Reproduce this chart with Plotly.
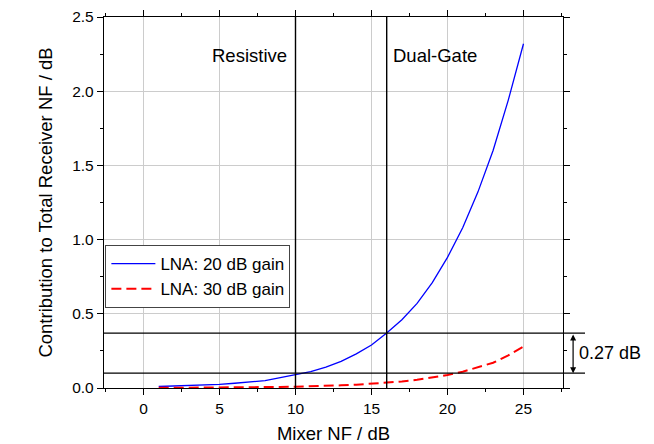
import plotly.graph_objects as go

# Mixer noise figure sweep (dB)
mixer_nf = list(range(1, 26))

# Contribution of the mixer to the total receiver NF (dB)
lna_20db = [0.010, 0.013, 0.016, 0.020, 0.025, 0.032, 0.040, 0.050, 0.070, 0.090,
            0.110, 0.140, 0.180, 0.230, 0.290, 0.370, 0.460, 0.570, 0.710, 0.880,
            1.080, 1.320, 1.600, 1.940, 2.320]
lna_30db = [0.001, 0.0013, 0.0017, 0.002, 0.0026, 0.003, 0.004, 0.005, 0.007, 0.009,
            0.011, 0.014, 0.018, 0.022, 0.028, 0.035, 0.044, 0.055, 0.070, 0.088,
            0.110, 0.140, 0.170, 0.220, 0.280]

# Reference mixer types (mixer NF, dB)
mixer_types = ["Resistive", "Dual-Gate"]
mixer_type_nf = [10, 16]
# Resulting contribution levels (dB) for 20 dB LNA gain
levels = [0.10, 0.37]
delta_label = "0.27 dB"

FONT = "Liberation Sans, Arial, sans-serif"

fig = go.Figure()
fig.add_trace(go.Scatter(x=mixer_nf, y=lna_20db, mode="lines",
                         name="LNA: 20 dB gain",
                         line=dict(color="#0000ff", width=1.3)))
fig.add_trace(go.Scatter(x=mixer_nf, y=lna_30db, mode="lines",
                         name="LNA: 30 dB gain",
                         line=dict(color="#ff0000", width=2, dash="10px,5px")))

# vertical markers for mixer types
for xv in mixer_type_nf:
    fig.add_shape(type="line", xref="x", yref="paper", x0=xv, x1=xv, y0=0, y1=1,
                  line=dict(color="black", width=1.4))
# horizontal levels extending past the right axis
for yv in levels:
    fig.add_shape(type="line", xref="paper", yref="y", x0=0, x1=1.048, y0=yv, y1=yv,
                  line=dict(color="black", width=1.4), layer="above")

fig.add_annotation(x=9.6, y=2.24, text=mixer_types[0], showarrow=False,
                   xanchor="right", font=dict(size=18.5, color="black", family=FONT))
fig.add_annotation(x=16.3, y=2.24, text=mixer_types[1], showarrow=False,
                   xanchor="left", font=dict(size=18.5, color="black", family=FONT))

# double-headed arrow spanning the level difference
fig.add_annotation(x=1.022, xref="paper", y=levels[0], yref="y",
                   ax=0, axref="pixel", ay=levels[1], ayref="y",
                   text="", showarrow=True, arrowhead=2, arrowside="end+start",
                   arrowsize=1, arrowwidth=1.2, arrowcolor="black")
fig.add_annotation(x=1.031, xref="paper", y=(levels[0] + levels[1]) / 2, yref="y",
                   text=delta_label, showarrow=False, xanchor="left",
                   font=dict(size=18, color="black", family=FONT))

axis_common = dict(
    showline=True, linecolor="black", linewidth=1.4, mirror="allticks",
    ticks="outside", ticklen=6, tickwidth=1.2, tickcolor="black",
    showgrid=True, gridcolor="#cccccc", gridwidth=1, zeroline=False,
    tickfont=dict(size=15.5, color="black", family=FONT),
    automargin=False,
)

fig.update_xaxes(range=[-2.6, 27.6], tick0=0, dtick=5,
                 minor=dict(ticks="outside", ticklen=3, dtick=2.5, tick0=0,
                            tickcolor="black", showgrid=False),
                 title=dict(text="Mixer NF / dB", standoff=14,
                            font=dict(size=18.5, color="black", family=FONT)),
                 **axis_common)
fig.update_yaxes(range=[0, 2.5], tick0=0, dtick=0.5, tickformat=".1f",
                 minor=dict(ticks="outside", ticklen=3, dtick=0.25, tick0=0,
                            tickcolor="black", showgrid=False),
                 title=dict(text="Contribution to Total Receiver NF / dB", standoff=14,
                            font=dict(size=18.5, color="black", family=FONT)),
                 **axis_common)

fig.update_layout(
    width=654, height=444,
    margin=dict(l=104, r=91, t=17, b=56),
    paper_bgcolor="white", plot_bgcolor="white",
    font=dict(family=FONT, color="black"),
    showlegend=True,
    legend=dict(x=0.003, y=0.385, xanchor="left", yanchor="top",
                bgcolor="white", bordercolor="#444444", borderwidth=1,
                font=dict(size=17, color="black", family=FONT),
                itemwidth=44, tracegroupgap=0),
)

fig.write_html("out.html")
